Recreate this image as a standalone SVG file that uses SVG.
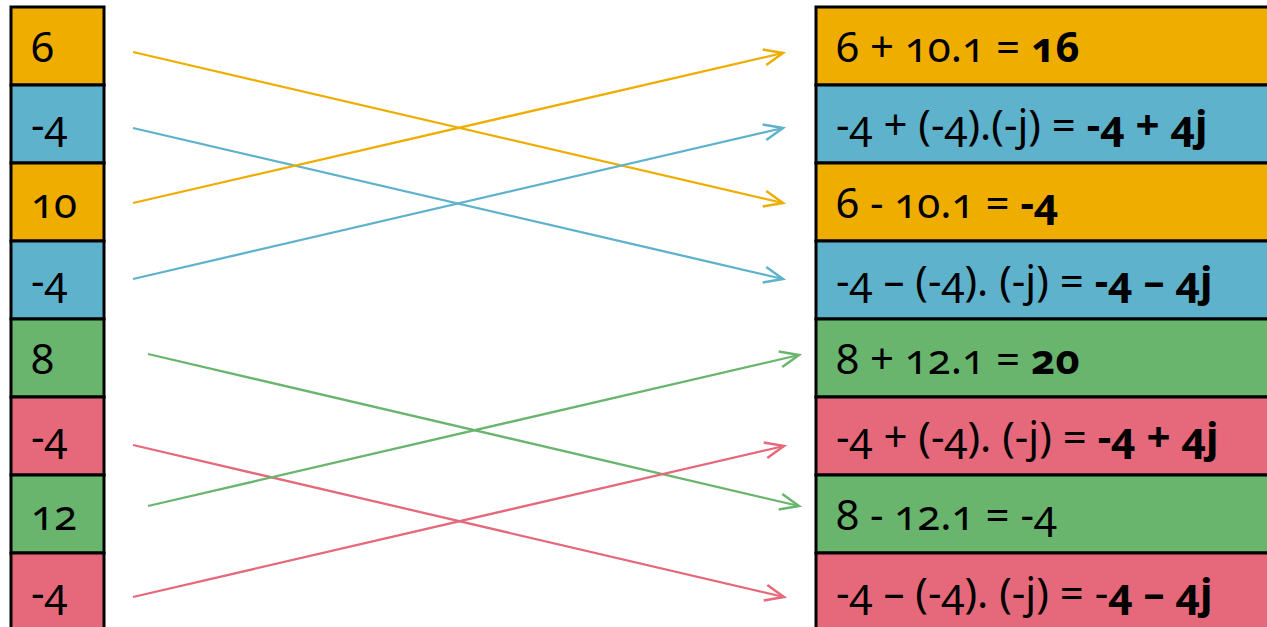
<svg xmlns="http://www.w3.org/2000/svg" width="1267" height="627" viewBox="0 0 1267 627">
<style>
text{font-family:"Noto Sans","Open Sans",sans-serif;font-size:42px;fill:#000;font-variant-numeric:oldstyle-nums}
.b{font-weight:bold}
.box{stroke:#000;stroke-width:3}
.o{fill:#EFAD00}.u{fill:#5EB2CB}.g{fill:#69B56E}.r{fill:#E5697B}
.c{fill:none;stroke-width:2.3}
.co{stroke:#EFAD00}.cu{stroke:#5EB2CB}.cg{stroke:#69B56E}.cr{stroke:#E5697B}
</style>
<defs>
<marker id="ao" markerUnits="userSpaceOnUse" orient="auto" markerWidth="30" markerHeight="30" refX="0" refY="0" overflow="visible"><path d="M-19,-8 L0,0 L-19,8" fill="none" stroke="#EFAD00" stroke-width="2.5"/></marker>
<marker id="au" markerUnits="userSpaceOnUse" orient="auto" markerWidth="30" markerHeight="30" refX="0" refY="0" overflow="visible"><path d="M-19,-8 L0,0 L-19,8" fill="none" stroke="#5EB2CB" stroke-width="2.5"/></marker>
<marker id="ag" markerUnits="userSpaceOnUse" orient="auto" markerWidth="30" markerHeight="30" refX="0" refY="0" overflow="visible"><path d="M-19,-8 L0,0 L-19,8" fill="none" stroke="#69B56E" stroke-width="2.5"/></marker>
<marker id="ar" markerUnits="userSpaceOnUse" orient="auto" markerWidth="30" markerHeight="30" refX="0" refY="0" overflow="visible"><path d="M-19,-8 L0,0 L-19,8" fill="none" stroke="#E5697B" stroke-width="2.5"/></marker>
</defs>
<rect width="1267" height="627" fill="#fff"/>
<g id="left">
<g id="l1"><rect class="box o" x="11" y="7" width="93" height="78"/><text x="31" y="62">6</text></g>
<g id="l2"><rect class="box u" x="11" y="85" width="93" height="78"/><text x="31" y="140">-4</text></g>
<g id="l3"><rect class="box o" x="11" y="163" width="93" height="78"/><text x="31" y="218">10</text></g>
<g id="l4"><rect class="box u" x="11" y="241" width="93" height="78"/><text x="31" y="296">-4</text></g>
<g id="l5"><rect class="box g" x="11" y="319" width="93" height="78"/><text x="31" y="374">8</text></g>
<g id="l6"><rect class="box r" x="11" y="397" width="93" height="78"/><text x="31" y="452">-4</text></g>
<g id="l7"><rect class="box g" x="11" y="475" width="93" height="78"/><text x="31" y="530">12</text></g>
<g id="l8"><rect class="box r" x="11" y="553" width="93" height="78"/><text x="31" y="608">-4</text></g>
</g>
<g id="right">
<g id="r1"><rect class="box o" x="816" y="7" width="470" height="78"/><text x="836" y="62">6 + 10.1 = <tspan class="b">16</tspan></text></g>
<g id="r2"><rect class="box u" x="816" y="85" width="470" height="78"/><text x="836" y="140">-4 + (-4).(-j) = <tspan class="b">-4 + 4j</tspan></text></g>
<g id="r3"><rect class="box o" x="816" y="163" width="470" height="78"/><text x="836" y="218">6 - 10.1 = <tspan class="b">-4</tspan></text></g>
<g id="r4"><rect class="box u" x="816" y="241" width="470" height="78"/><text x="836" y="296">-4 – (-4). (-j) = <tspan class="b">-4 – 4j</tspan></text></g>
<g id="r5"><rect class="box g" x="816" y="319" width="470" height="78"/><text x="836" y="374">8 + 12.1 = <tspan class="b">20</tspan></text></g>
<g id="r6"><rect class="box r" x="816" y="397" width="470" height="78"/><text x="836" y="452">-4 + (-4). (-j) = <tspan class="b">-4 + 4j</tspan></text></g>
<g id="r7"><rect class="box g" x="816" y="475" width="470" height="78"/><text x="836" y="530">8 - 12.1 = -4</text></g>
<g id="r8"><rect class="box r" x="816" y="553" width="470" height="78"/><text x="836" y="608">-4 – (-4). (-j) = -<tspan class="b">4 – 4j</tspan></text></g>
</g>
<g id="connectors">
<line class="c co" x1="133" y1="52" x2="783" y2="203" marker-end="url(#ao)"/>
<line class="c cu" x1="133" y1="128" x2="783" y2="279" marker-end="url(#au)"/>
<line class="c co" x1="133" y1="203" x2="783" y2="53" marker-end="url(#ao)"/>
<line class="c cu" x1="133" y1="279" x2="783" y2="128" marker-end="url(#au)"/>
<line class="c cg" x1="148" y1="354" x2="799" y2="506" marker-end="url(#ag)"/>
<line class="c cr" x1="133" y1="445" x2="784" y2="597" marker-end="url(#ar)"/>
<line class="c cg" x1="148" y1="506" x2="799" y2="355" marker-end="url(#ag)"/>
<line class="c cr" x1="133" y1="597" x2="784" y2="446" marker-end="url(#ar)"/>
</g>
</svg>
